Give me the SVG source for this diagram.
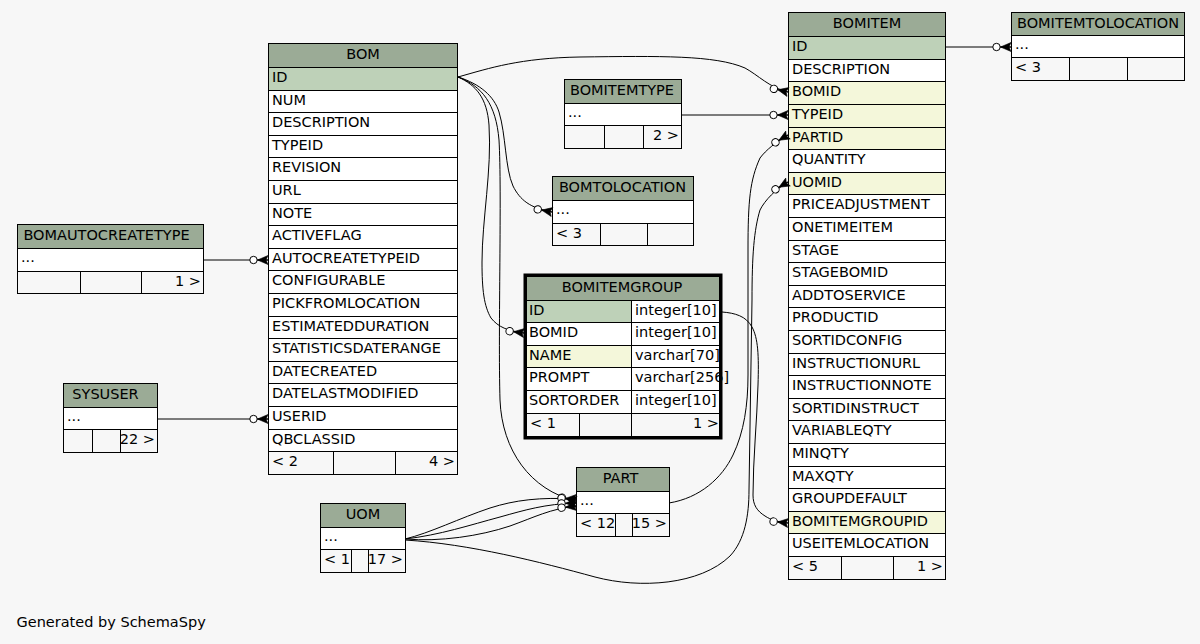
<svg xmlns="http://www.w3.org/2000/svg" width="1200" height="644" viewBox="0 0 1200 644">
<style>
text{font-family:"DejaVu Sans","Liberation Sans",sans-serif;font-size:14.5px;fill:#000}
.h{fill:#9bab96;stroke:#000}
.w{fill:#fff;stroke:#000}
.pk{fill:#bed1b8;stroke:#000}
.fk{fill:#f4f7da;stroke:#000}
.f{fill:#f7f7f7;stroke:#000}
.c{text-anchor:middle}
.e{text-anchor:end}
#connectors path{fill:none;stroke:#000;stroke-width:1;marker-end:url(#cf)}
</style>
<defs>
<marker id="cf" markerUnits="userSpaceOnUse" viewBox="-20 -10 30 20" markerWidth="30" markerHeight="20" refX="0" refY="0" orient="auto" overflow="visible">
<path d="M-10.5,0 L0,-4.5 L-2,0 L0,4.5 Z" fill="#000" stroke="#000" stroke-width="0.6"/>
<path d="M-11,0 H0" stroke="#000"/>
<circle cx="-14.5" cy="0" r="3.7" fill="#fff" stroke="#000"/>
</marker>
</defs>
<rect x="0" y="0" width="1200" height="644" fill="#f7f7f7"/>

<g id="BOM">
<rect class="h" x="268.5" y="43.5" width="189" height="24"/>
<text class="c" x="363" y="58.5">BOM</text>
<rect class="pk" x="268.5" y="67.5" width="189" height="23"/><text x="272" y="81.5">ID</text>
<rect class="w" x="268.5" y="90.5" width="189" height="22"/><text x="272" y="104.5">NUM</text>
<rect class="w" x="268.5" y="112.5" width="189" height="23"/><text x="272" y="126.5">DESCRIPTION</text>
<rect class="w" x="268.5" y="135.5" width="189" height="22"/><text x="272" y="149.5">TYPEID</text>
<rect class="w" x="268.5" y="157.5" width="189" height="23"/><text x="272" y="171.5">REVISION</text>
<rect class="w" x="268.5" y="180.5" width="189" height="23"/><text x="272" y="194.5">URL</text>
<rect class="w" x="268.5" y="203.5" width="189" height="22"/><text x="272" y="217.5">NOTE</text>
<rect class="w" x="268.5" y="225.5" width="189" height="23"/><text x="272" y="239.5">ACTIVEFLAG</text>
<rect class="w" x="268.5" y="248.5" width="189" height="22"/><text x="272" y="262.5">AUTOCREATETYPEID</text>
<rect class="w" x="268.5" y="270.5" width="189" height="23"/><text x="272" y="284.5">CONFIGURABLE</text>
<rect class="w" x="268.5" y="293.5" width="189" height="23"/><text x="272" y="307.5">PICKFROMLOCATION</text>
<rect class="w" x="268.5" y="316.5" width="189" height="22"/><text x="272" y="330.5">ESTIMATEDDURATION</text>
<rect class="w" x="268.5" y="338.5" width="189" height="23"/><text x="272" y="352.5">STATISTICSDATERANGE</text>
<rect class="w" x="268.5" y="361.5" width="189" height="22"/><text x="272" y="375.5">DATECREATED</text>
<rect class="w" x="268.5" y="383.5" width="189" height="23"/><text x="272" y="397.5">DATELASTMODIFIED</text>
<rect class="w" x="268.5" y="406.5" width="189" height="23"/><text x="272" y="420.5">USERID</text>
<rect class="w" x="268.5" y="429.5" width="189" height="22"/><text x="272" y="443.5">QBCLASSID</text>
<rect class="f" x="268.5" y="451.5" width="65" height="23"/>
<rect class="f" x="333.5" y="451.5" width="62" height="23"/>
<rect class="f" x="395.5" y="451.5" width="62" height="23"/>
<text x="272" y="465.5">&lt; 2</text><text class="e" x="455" y="465.5">4 &gt;</text>
</g>

<g id="BOMITEM">
<rect class="h" x="788.5" y="12.5" width="157" height="24"/>
<text class="c" x="867" y="27.5">BOMITEM</text>
<rect class="pk" x="788.5" y="36.5" width="157" height="23"/><text x="792" y="50.5">ID</text>
<rect class="w" x="788.5" y="59.5" width="157" height="22"/><text x="792" y="73.5">DESCRIPTION</text>
<rect class="fk" x="788.5" y="81.5" width="157" height="23"/><text x="792" y="95.5">BOMID</text>
<rect class="fk" x="788.5" y="104.5" width="157" height="23"/><text x="792" y="118.5">TYPEID</text>
<rect class="fk" x="788.5" y="127.5" width="157" height="22"/><text x="792" y="141.5">PARTID</text>
<rect class="w" x="788.5" y="149.5" width="157" height="23"/><text x="792" y="163.5">QUANTITY</text>
<rect class="fk" x="788.5" y="172.5" width="157" height="22"/><text x="792" y="186.5">UOMID</text>
<rect class="w" x="788.5" y="194.5" width="157" height="23"/><text x="792" y="208.5">PRICEADJUSTMENT</text>
<rect class="w" x="788.5" y="217.5" width="157" height="23"/><text x="792" y="231.5">ONETIMEITEM</text>
<rect class="w" x="788.5" y="240.5" width="157" height="22"/><text x="792" y="254.5">STAGE</text>
<rect class="w" x="788.5" y="262.5" width="157" height="23"/><text x="792" y="276.5">STAGEBOMID</text>
<rect class="w" x="788.5" y="285.5" width="157" height="22"/><text x="792" y="299.5">ADDTOSERVICE</text>
<rect class="w" x="788.5" y="307.5" width="157" height="23"/><text x="792" y="321.5">PRODUCTID</text>
<rect class="w" x="788.5" y="330.5" width="157" height="23"/><text x="792" y="344.5">SORTIDCONFIG</text>
<rect class="w" x="788.5" y="353.5" width="157" height="22"/><text x="792" y="367.5">INSTRUCTIONURL</text>
<rect class="w" x="788.5" y="375.5" width="157" height="23"/><text x="792" y="389.5">INSTRUCTIONNOTE</text>
<rect class="w" x="788.5" y="398.5" width="157" height="22"/><text x="792" y="412.5">SORTIDINSTRUCT</text>
<rect class="w" x="788.5" y="420.5" width="157" height="23"/><text x="792" y="434.5">VARIABLEQTY</text>
<rect class="w" x="788.5" y="443.5" width="157" height="23"/><text x="792" y="457.5">MINQTY</text>
<rect class="w" x="788.5" y="466.5" width="157" height="22"/><text x="792" y="480.5">MAXQTY</text>
<rect class="w" x="788.5" y="488.5" width="157" height="23"/><text x="792" y="502.5">GROUPDEFAULT</text>
<rect class="fk" x="788.5" y="511.5" width="157" height="22"/><text x="792" y="525.5">BOMITEMGROUPID</text>
<rect class="w" x="788.5" y="533.5" width="157" height="23"/><text x="792" y="547.5">USEITEMLOCATION</text>
<rect class="f" x="788.5" y="556.5" width="53" height="23"/>
<rect class="f" x="841.5" y="556.5" width="52" height="23"/>
<rect class="f" x="893.5" y="556.5" width="52" height="23"/>
<text x="792" y="570.5">&lt; 5</text><text class="e" x="943" y="570.5">1 &gt;</text>
</g>

<g id="BOMITEMTOLOCATION">
<rect class="h" x="1011.5" y="12.5" width="173" height="23"/>
<text class="c" x="1098" y="27.5">BOMITEMTOLOCATION</text>
<rect class="w" x="1011.5" y="35.5" width="173" height="22"/><text x="1015" y="49">...</text>
<rect class="f" x="1011.5" y="57.5" width="58" height="23"/>
<rect class="f" x="1069.5" y="57.5" width="58" height="23"/>
<rect class="f" x="1127.5" y="57.5" width="57" height="23"/>
<text x="1015" y="71.5">&lt; 3</text>
</g>

<g id="BOMITEMTYPE">
<rect class="h" x="564.5" y="79.5" width="117" height="24"/>
<text class="c" x="622" y="94.5">BOMITEMTYPE</text>
<rect class="w" x="564.5" y="103.5" width="117" height="22"/><text x="568" y="117">...</text>
<rect class="f" x="564.5" y="125.5" width="40" height="23"/>
<rect class="f" x="604.5" y="125.5" width="39" height="23"/>
<rect class="f" x="643.5" y="125.5" width="38" height="23"/>
<text class="e" x="679" y="139.5">2 &gt;</text>
</g>

<g id="BOMTOLOCATION">
<rect class="h" x="552.5" y="176.5" width="141" height="24"/>
<text class="c" x="622.5" y="191.5">BOMTOLOCATION</text>
<rect class="w" x="552.5" y="200.5" width="141" height="23"/><text x="556" y="214">...</text>
<rect class="f" x="552.5" y="223.5" width="48" height="22"/>
<rect class="f" x="600.5" y="223.5" width="47" height="22"/>
<rect class="f" x="647.5" y="223.5" width="46" height="22"/>
<text x="556" y="237.5">&lt; 3</text>
</g>

<g id="BOMITEMGROUP">
<rect class="h" x="526.5" y="276.5" width="193" height="24" stroke="none"/>
<text class="c" x="622" y="291.5">BOMITEMGROUP</text>
<rect class="pk" x="526.5" y="300.5" width="105" height="22"/><rect class="w" x="631.5" y="300.5" width="88" height="22"/>
<text x="529" y="314.5">ID</text><text x="635" y="314.5">integer[10]</text>
<rect class="w" x="526.5" y="322.5" width="105" height="23"/><rect class="w" x="631.5" y="322.5" width="88" height="23"/>
<text x="529" y="336.5">BOMID</text><text x="635" y="336.5">integer[10]</text>
<rect class="fk" x="526.5" y="345.5" width="105" height="22"/><rect class="w" x="631.5" y="345.5" width="88" height="22"/>
<text x="529" y="359.5">NAME</text><text x="635" y="359.5">varchar[70]</text>
<rect class="w" x="526.5" y="367.5" width="105" height="23"/><rect class="w" x="631.5" y="367.5" width="88" height="23"/>
<text x="529" y="381.5">PROMPT</text><text x="635" y="381.5">varchar[256]</text>
<rect class="w" x="526.5" y="390.5" width="105" height="23"/><rect class="w" x="631.5" y="390.5" width="88" height="23"/>
<text x="529" y="404.5">SORTORDER</text><text x="635" y="404.5">integer[10]</text>
<rect class="f" x="526.5" y="413.5" width="53" height="23"/>
<rect class="f" x="579.5" y="413.5" width="52" height="23"/>
<rect class="f" x="631.5" y="413.5" width="88" height="23"/>
<text x="530" y="427.5">&lt; 1</text><text class="e" x="719" y="427.5">1 &gt;</text>
<rect x="525" y="275" width="196" height="163" fill="none" stroke="#000" stroke-width="3"/>
</g>

<g id="BOMAUTOCREATETYPE">
<rect class="h" x="17.5" y="224.5" width="186" height="24"/>
<text class="c" x="106.5" y="239.5">BOMAUTOCREATETYPE</text>
<rect class="w" x="17.5" y="248.5" width="186" height="23"/><text x="21" y="262">...</text>
<rect class="f" x="17.5" y="271.5" width="63" height="22"/>
<rect class="f" x="80.5" y="271.5" width="61" height="22"/>
<rect class="f" x="141.5" y="271.5" width="62" height="22"/>
<text class="e" x="201" y="285.5">1 &gt;</text>
</g>

<g id="SYSUSER">
<rect class="h" x="63.5" y="383.5" width="94" height="24"/>
<text class="c" x="105.5" y="398.5">SYSUSER</text>
<rect class="w" x="63.5" y="407.5" width="94" height="22"/><text x="67" y="421">...</text>
<rect class="f" x="63.5" y="429.5" width="29" height="23"/>
<rect class="f" x="92.5" y="429.5" width="28" height="23"/>
<rect class="f" x="120.5" y="429.5" width="37" height="23"/>
<text class="e" x="155" y="444">22 &gt;</text>
</g>

<g id="UOM">
<rect class="h" x="320.5" y="503.5" width="85" height="24"/>
<text class="c" x="363" y="518.5">UOM</text>
<rect class="w" x="320.5" y="527.5" width="85" height="22"/><text x="324" y="541">...</text>
<rect class="f" x="320.5" y="549.5" width="31" height="23"/>
<rect class="f" x="351.5" y="549.5" width="17" height="23"/>
<rect class="f" x="368.5" y="549.5" width="37" height="23"/>
<text x="324" y="564">&lt; 1</text><text class="e" x="403" y="564">17 &gt;</text>
</g>

<g id="PART">
<rect class="h" x="576.5" y="467.5" width="93" height="24"/>
<text class="c" x="620.5" y="482.5">PART</text>
<rect class="w" x="576.5" y="491.5" width="93" height="22"/><text x="580" y="505">...</text>
<rect class="f" x="576.5" y="513.5" width="39" height="23"/>
<rect class="f" x="615.5" y="513.5" width="17" height="23"/>
<rect class="f" x="632.5" y="513.5" width="37" height="23"/>
<text x="580" y="528">&lt; 12</text><text class="e" x="667" y="528">15 &gt;</text>
</g>

<g id="connectors">
<path d="M458,77 C490,68 520,58 580,57 C660,56 715,55 745,68 C758,75 770,88 788,92"/>
<path d="M458,77 C480,84 494,96 499,112 C506,135 505,168 513,186 C520,200 530,208 552,212"/>
<path d="M458,77 C476,85 487,98 489,125 C492,170 482,220 482,262 C482,290 484,306 491,318 C498,327 508,331 524,333"/>
<path d="M458,77 C482,86 496,104 499,140 C502,190 498,330 500,400 C502,450 530,490 576,501"/>
<path d="M405,539 C430,533 460,518 490,508 C515,500 540,497 576,499"/>
<path d="M405,539 C440,535 470,525 500,517 C525,510 545,504 576,503"/>
<path d="M405,539 C440,542 480,536 510,526 C535,517 550,509 576,506"/>
<path d="M405,540 C470,544 540,562 595,577 C640,589 700,585 730,556 C745,540 749,515 749,490 L752,300 C752,255 754,230 760,210 C765,200 776,189 788,182"/>
<path d="M669,503 C700,498 722,478 733,455 C744,432 748,405 748,375 L748,250 C748,200 750,180 760,158 C766,150 776,142 788,135"/>
<path d="M722,312 C735,313 746,316 752,327 C758,338 759,355 758,385 C757,420 753,460 753,495 C753,505 757,511 765,516 C771,520 778,522 788,523"/>
<path d="M682,115 H788"/>
<path d="M946,47 H1011"/>
<path d="M204,260 H268"/>
<path d="M158,419 H268"/>
</g>

<text x="16.5" y="627">Generated by SchemaSpy</text>
</svg>
